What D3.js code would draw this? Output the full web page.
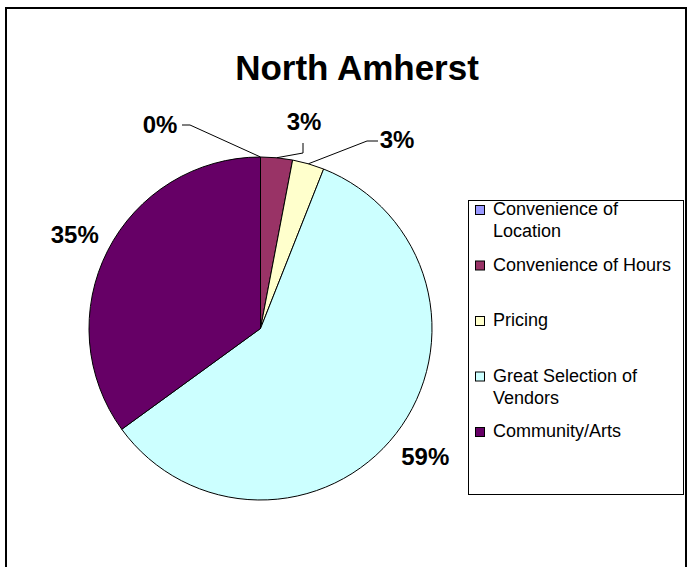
<!DOCTYPE html>
<html>
<head>
<meta charset="utf-8">
<script src="https://cdn.jsdelivr.net/npm/d3@7"></script>
<style>
  body { margin: 0; background: #fff; }
  text { font-family: Arial, "Liberation Sans", sans-serif; }
</style>
</head>
<body>
<div id="chart"></div>
<script>
// data
const categories = ["Convenience of Location", "Convenience of Hours", "Pricing", "Great Selection of Vendors", "Community/Arts"];
const legendLines = [["Convenience of", "Location"], ["Convenience of Hours"], ["Pricing"], ["Great Selection of", "Vendors"], ["Community/Arts"]];
const values = [0, 3, 3, 59, 35];
const colors = ["#9999FF", "#993366", "#FFFFCC", "#CCFFFF", "#660066"];

const W = 690, H = 567;
const cx = 260.5, cy = 328.5, r = 171.5;

const svg = d3.select("#chart").append("svg")
    .attr("width", W)
    .attr("height", H);

// chart frame
svg.append("rect")
    .attr("x", 6).attr("y", 8)
    .attr("width", 680).attr("height", 580)
    .attr("fill", "none")
    .attr("stroke", "#000")
    .attr("stroke-width", 2);

svg.append("text")
    .attr("x", 357).attr("y", 80)
    .attr("text-anchor", "middle")
    .style("font-size", "35px")
    .style("font-weight", "bold")
    .text("North Amherst");

const pie = d3.pie().sort(null).value(d => d)(values);
const arc = d3.arc().innerRadius(0).outerRadius(r);

const g = svg.append("g").attr("transform", `translate(${cx},${cy})`);

g.selectAll("path")
    .data(pie)
    .enter()
    .append("path")
    .attr("d", arc)
    .attr("fill", (d, i) => colors[i])
    .attr("stroke", "#000")
    .attr("stroke-width", 1);

// labels: big slices sit outside along the mid angle, small ones moved with leaders
const fmt = d => d + "%";
const moved = {
    0: { x: 160, y: 133, lead: [[182, 125], [190, 125]] },
    1: { x: 304, y: 130, lead: [[303, 143], [303, 153]] },
    2: { x: 397, y: 148, lead: [[378, 141], [367, 141]] }
};

pie.forEach((d, i) => {
    const mid = (d.startAngle + d.endAngle) / 2;
    const edge = [cx + r * Math.sin(mid), cy - r * Math.cos(mid)];
    let lx, ly;
    if (moved[i]) {
        lx = moved[i].x; ly = moved[i].y;
        svg.append("path")
            .attr("d", d3.line()([...moved[i].lead, edge]))
            .attr("fill", "none")
            .attr("stroke", "#000")
            .attr("stroke-width", 1);
    } else {
        const lr = r + 37;
        lx = cx + lr * Math.sin(mid);
        ly = cy - lr * Math.cos(mid) + 9;
    }
    svg.append("text")
        .attr("x", lx).attr("y", ly)
        .attr("text-anchor", "middle")
        .style("font-size", "24px")
        .style("font-weight", "bold")
        .text(fmt(values[i]));
});

// legend
const legend = svg.append("g").attr("transform", "translate(468,200)");
legend.append("rect")
    .attr("x", 0.5).attr("y", 0.5)
    .attr("width", 215).attr("height", 294)
    .attr("fill", "#fff")
    .attr("stroke", "#000")
    .attr("stroke-width", 1);

const rows = legend.selectAll(".legend")
    .data(categories)
    .enter()
    .append("g")
    .attr("class", "legend")
    .attr("transform", (d, i) => `translate(0, ${15 + i * 55.5})`);

rows.append("rect")
    .attr("x", 7.5).attr("y", -9.5)
    .attr("width", 9).attr("height", 9)
    .attr("fill", (d, i) => colors[i])
    .attr("stroke", "#000")
    .attr("stroke-width", 1);

rows.append("text")
    .attr("x", 25)
    .attr("y", 0)
    .style("font-size", "18px")
    .each(function(d, i) {
        d3.select(this).selectAll("tspan")
            .data(legendLines[i])
            .enter()
            .append("tspan")
            .attr("x", 25)
            .attr("dy", (t, j) => j === 0 ? 0 : 22)
            .text(t => t);
    });
</script>
</body>
</html>
